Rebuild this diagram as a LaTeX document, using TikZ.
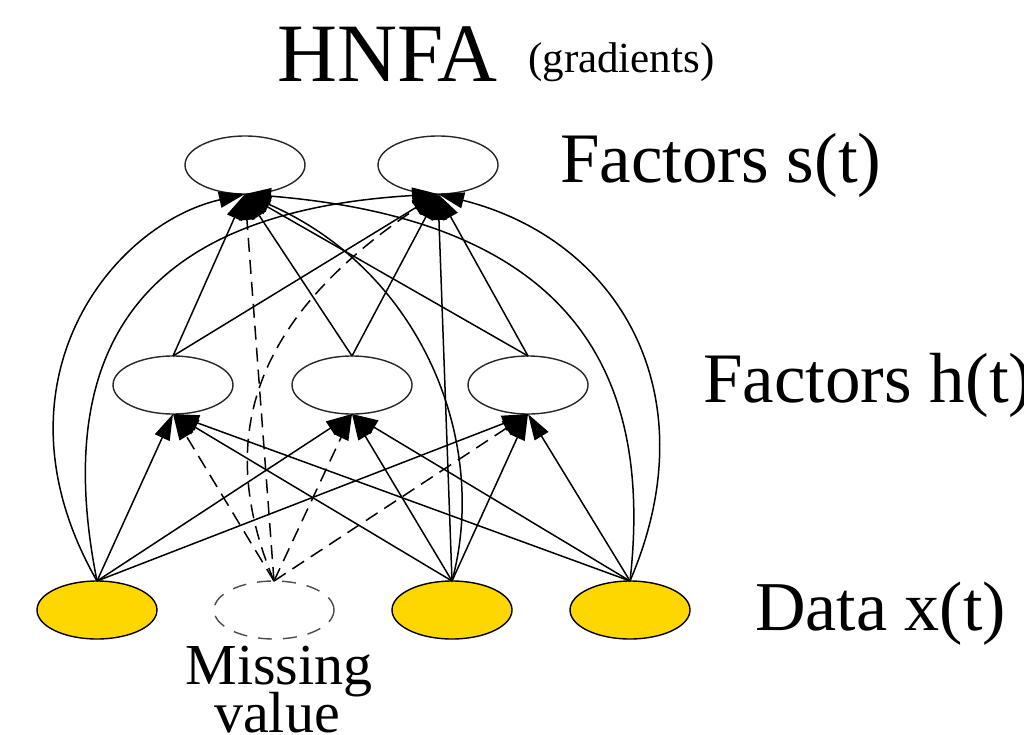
\documentclass[tikz,border=0pt]{standalone}
\usepackage{fontspec}
\setmainfont{Liberation Serif}
\usetikzlibrary{shapes.geometric,arrows.meta}
\definecolor{datagold}{RGB}{255,215,0}

\begin{document}
\begin{tikzpicture}[x=1pt,y=-1pt,
  var/.style={ellipse, draw=black!85, line width=1.4pt, minimum width=120pt,
              minimum height=58pt, inner sep=0pt, outer sep=0pt},
  obs/.style={var, draw=black, fill=datagold},
  miss/.style={var, draw=black!70, dash pattern=on 14pt off 11pt},
  link/.style={line width=1.5pt, draw=black, -{Triangle[length=26pt,width=16pt]}},
  gap/.style={link, dash pattern=on 14pt off 8pt},
  lbl/.style={inner sep=0pt, anchor=base west}
]
\useasboundingbox (0,0) rectangle (1024,735);

% titles and layer labels
\node[lbl, font=\fontsize{83}{90}\selectfont] (title) at (277,82) {HNFA};
\node[lbl, font=\fontsize{43}{50}\selectfont] (sub) at (528,73) {(gradients)};
\node[lbl, font=\fontsize{71}{80}\selectfont] (ls) at (560,183) {Factors s(t)};
\node[lbl, font=\fontsize{71}{80}\selectfont] (lh) at (703,402) {Factors h(t)};
\node[lbl, font=\fontsize{70}{80}\selectfont] (lx) at (755,630) {Data x(t)};
\node[inner sep=0pt, anchor=base, font=\fontsize{58}{60}\selectfont] (missA) at (279,684) {Missing};
\node[inner sep=0pt, anchor=base, font=\fontsize{58}{60}\selectfont] (missB) at (277,732) {value};

% top layer
\node[var] (s1) at (245,165) {};
\node[var] (s2) at (438,165) {};
% middle layer
\node[var] (h1) at (173,385) {};
\node[var] (h2) at (352,385) {};
\node[var] (h3) at (528,385) {};
% data layer
\node[obs]  (x1) at (97,610) {};
\node[miss] (m)  at (274,610) {};
\node[obs]  (x3) at (452,610) {};
\node[obs]  (x4) at (630,610) {};

% middle -> top
\foreach \h in {h1,h2,h3}{
  \draw[link] (\h.north) -- (s1.south);
  \draw[link] (\h.north) -- (s2.south);
}
% data -> middle
\foreach \x in {x1,x3,x4}{
  \foreach \h in {h1,h2,h3}{
    \draw[link] (\x.north) -- (\h.south);
  }
}
\foreach \h in {h1,h2,h3}{
  \draw[gap] (m.north) -- (\h.south);
}
% data -> top
\draw[link] (x1.north) .. controls (-15,385) and (110,225) .. (s1.south);
\draw[link] (x1.north) .. controls (45,320) and (170,210) .. (s2.south);
\draw[gap]  (m.north) -- (s1.south);
\draw[gap]  (m.north) .. controls (215,440) and (250,320) .. (s2.south);
\draw[link] (x3.north) .. controls (490,440) and (420,270) .. (s1.south);
\draw[link] (x3.north) -- (s2.south);
\draw[link] (x4.north) .. controls (655,360) and (560,220) .. (s1.south);
\draw[link] (x4.north) .. controls (710,395) and (620,240) .. (s2.south);
\end{tikzpicture}
\end{document}
